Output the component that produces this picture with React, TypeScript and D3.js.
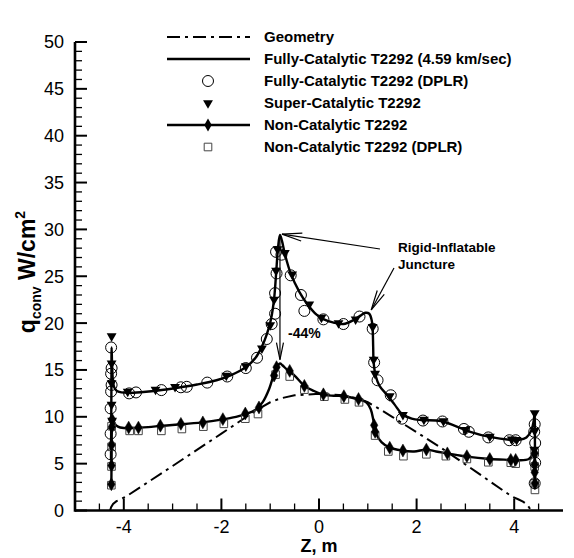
import React from "react";
import * as d3 from "d3";

type P = [number, number];

// Geometry profile (scaled)
const geometry: P[] = [
  [-4.28, 0], [-4.26, 0.35], [-4.22, 0.7], [-4.15, 1.0], [-4.05, 1.25], [-3.95, 1.5],
  [-3.0, 4.75], [-2.0, 8.2], [-1.4, 10.3], [-1.2, 10.95], [-1.0, 11.55], [-0.8, 11.95],
  [-0.5, 12.3], [0, 12.45], [0.5, 12.3], [0.8, 11.95], [1.0, 11.55], [1.2, 10.95],
  [1.5, 10.0], [2.5, 6.7], [3.2, 4.2], [3.95, 1.5], [4.08, 1.2], [4.18, 0.95],
  [4.26, 0.65], [4.31, 0.3], [4.34, 0],
];

// Fully-Catalytic T2292 (4.59 km/sec) line
const fullyCat: P[] = [
  [-4.262, 5.4], [-4.258, 9], [-4.254, 13], [-4.25, 17.4], [-4.24, 15.6], [-4.225, 14.0],
  [-4.2, 13.2], [-4.15, 12.8], [-4.05, 12.6], [-3.9, 12.55], [-3.6, 12.65], [-3.3, 12.8],
  [-2.9, 13.1], [-2.5, 13.45], [-2.1, 13.9], [-1.8, 14.45], [-1.5, 15.3], [-1.3, 16.3],
  [-1.17, 17.5], [-1.07, 18.8], [-0.98, 20.5], [-0.92, 22.6], [-0.88, 25.2], [-0.84, 28.0],
  [-0.8, 29.4], [-0.76, 28.8], [-0.7, 27.4], [-0.58, 25.3], [-0.4, 23.3], [-0.25, 22.1],
  [-0.05, 20.9], [0.1, 20.4], [0.3, 20.05], [0.5, 19.9], [0.7, 20.3], [0.85, 20.8],
  [0.95, 21.1], [1.03, 21.0], [1.08, 20.3], [1.1, 19.3], [1.11, 17.5], [1.12, 15.8],
  [1.16, 14.4], [1.24, 13.3], [1.4, 12.3], [1.55, 11.3], [1.7, 10.3], [1.9, 9.8],
  [2.1, 9.65], [2.5, 9.55], [2.8, 9.0], [3.1, 8.4], [3.5, 7.85], [3.9, 7.55], [4.1, 7.55],
  [4.25, 7.8], [4.35, 8.5], [4.4, 9.6], [4.42, 10.5], [4.425, 7], [4.428, 4], [4.43, 2.3],
];

// Fully-Catalytic T2292 (DPLR) circles
const fullyCatDPLR: P[] = [
  [-4.26, 17.4], [-4.25, 15.2], [-4.26, 14.6], [-4.25, 13.4], [-4.26, 12.7], [-4.27, 10.9],
  [-4.27, 8.2], [-4.27, 6.0], [-3.89, 12.5], [-3.75, 12.6], [-3.23, 12.85], [-2.83, 13.15],
  [-2.71, 13.2], [-2.29, 13.65], [-1.88, 14.3], [-1.5, 15.2], [-1.27, 16.3], [-1.07, 18.3],
  [-0.97, 19.9], [-0.9, 21.0], [-0.9, 23.2], [-0.87, 25.3], [-0.88, 27.6], [-0.77, 27.3],
  [-0.58, 25.1], [-0.37, 23.0], [-0.3, 21.3], [0.09, 20.4], [0.5, 19.9], [0.83, 20.7],
  [1.1, 19.4], [1.13, 15.8], [1.2, 13.9], [1.47, 12.3], [1.7, 9.8], [2.13, 9.6],
  [2.53, 9.5], [2.97, 8.7], [3.07, 8.4], [3.47, 7.8], [3.9, 7.5], [4.03, 7.5],
  [4.42, 9.2], [4.41, 8.4], [4.43, 7.2], [4.43, 5.1], [4.42, 2.9],
];

// Super-Catalytic T2292 triangles
const superCat: P[] = [
  [-4.25, 18.6], [-4.25, 15.7], [-4.25, 13.6], [-4.25, 11.3], [-4.24, 9.6], [-3.92, 12.7],
  [-3.35, 12.9], [-2.95, 13.2], [-1.9, 14.4], [-1.5, 15.4], [-1.17, 17.3], [-1.0, 19.8],
  [-0.92, 22.5], [-0.88, 25.6], [-0.85, 27.9], [-0.7, 27.5], [-0.55, 25.2], [-0.2, 22.0],
  [0.05, 20.6], [0.4, 20.0], [0.75, 20.4], [1.1, 19.6], [1.12, 16.1], [1.15, 14.6],
  [1.45, 12.2], [1.72, 10.2], [2.15, 9.7], [2.55, 9.55], [3.0, 8.6], [3.5, 7.9],
  [3.95, 7.6], [4.05, 7.55], [4.42, 10.4], [4.42, 8.5], [4.41, 6.5],
];

// Non-Catalytic T2292 line
const nonCat: P[] = [
  [-4.255, 2.8], [-4.252, 4.8], [-4.25, 7.0], [-4.245, 9.2], [-4.24, 10.0], [-4.225, 9.8],
  [-4.19, 9.3], [-4.12, 8.95], [-4.0, 8.8], [-3.8, 8.8], [-3.5, 8.9], [-3.2, 9.05],
  [-2.8, 9.2], [-2.4, 9.4], [-2.0, 9.7], [-1.7, 10.0], [-1.5, 10.3], [-1.3, 10.75],
  [-1.15, 11.6], [-1.02, 13.0], [-0.92, 14.6], [-0.85, 15.4], [-0.8, 15.7], [-0.75, 15.5],
  [-0.65, 15.0], [-0.5, 14.4], [-0.3, 13.3], [-0.1, 12.75], [0.1, 12.35], [0.3, 12.25],
  [0.53, 12.2], [0.7, 12.0], [0.85, 11.8], [0.98, 11.5], [1.06, 10.8], [1.12, 9.5],
  [1.18, 8.1], [1.28, 7.3], [1.45, 6.7], [1.7, 6.4], [1.95, 6.3], [2.2, 6.5], [2.4, 6.3],
  [2.63, 6.1], [3.03, 5.75], [3.5, 5.5], [3.93, 5.4], [4.1, 5.35], [4.3, 5.5],
  [4.39, 6.1], [4.415, 6.7], [4.42, 5], [4.422, 3.5], [4.425, 2.6],
];

// Non-Catalytic T2292 diamonds
const nonCatMarks: P[] = [
  [-4.255, 2.8], [-4.252, 4.8], [-4.25, 7.0], [-4.245, 8.9], [-4.24, 9.7], [-3.9, 8.85],
  [-3.7, 8.85], [-3.25, 9.05], [-2.83, 9.25], [-2.38, 9.4], [-1.97, 9.75], [-1.51, 10.35],
  [-1.23, 11.0], [-0.92, 14.4], [-0.87, 15.3], [-0.6, 14.9], [-0.3, 13.3], [0.09, 12.4],
  [0.51, 12.2], [0.81, 11.9], [1.13, 9.1], [1.15, 8.4], [1.45, 6.7], [1.72, 6.4],
  [2.2, 6.5], [2.63, 6.1], [3.03, 5.8], [3.5, 5.5], [3.93, 5.4], [4.03, 5.4],
  [4.42, 6.1], [4.42, 4.9], [4.42, 4.07], [4.425, 2.9],
];

// Non-Catalytic T2292 (DPLR) squares
const nonCatDPLR: P[] = [
  [-4.255, 2.7], [-4.252, 4.7], [-4.25, 6.8], [-4.25, 9.0], [-3.88, 8.5], [-3.7, 8.5],
  [-3.23, 8.5], [-2.81, 8.7], [-2.37, 8.95], [-1.95, 9.25], [-1.51, 9.8], [-1.25, 10.3],
  [-0.89, 14.5], [-0.6, 14.3], [-0.3, 12.9], [0.11, 12.15], [0.53, 11.85], [0.82, 11.55],
  [1.15, 8.0], [1.42, 6.3], [1.73, 5.8], [2.2, 6.0], [2.6, 5.8], [3.03, 5.5],
  [3.47, 5.15], [3.93, 5.1], [4.03, 5.0], [4.42, 6.2], [4.42, 4.7], [4.42, 2.9], [4.425, 2.2],
];

const xMajor = [-4, -2, 0, 2, 4];
const yMajor = [0, 5, 10, 15, 20, 25, 30, 35, 40, 45, 50];

const legendLabels = [
  "Geometry",
  "Fully-Catalytic T2292 (4.59 km/sec)",
  "Fully-Catalytic T2292 (DPLR)",
  "Super-Catalytic T2292",
  "Non-Catalytic T2292",
  "Non-Catalytic T2292 (DPLR)",
];

const FONT = "'Liberation Sans', Arial, Helvetica, sans-serif";

function arrowHead(x1: number, y1: number, x2: number, y2: number, L = 18, w = 4) {
  const dx = x2 - x1, dy = y2 - y1;
  const len = Math.hypot(dx, dy);
  const ux = dx / len, uy = dy / len;
  const bx = x2 - ux * L, by = y2 - uy * L;
  const nx = -uy, ny = ux;
  return `${bx + nx * w},${by + ny * w} ${x2},${y2} ${bx - nx * w},${by - ny * w}`;
}

export default function App() {
  const W = 574, H = 558;
  const x = d3.scaleLinear().domain([-5, 5]).range([75, 563]);
  const y = d3.scaleLinear().domain([0, 50]).range([510.5, 42]);

  const line = d3.line<P>().x(d => x(d[0])).y(d => y(d[1])).curve(d3.curveCatmullRom.alpha(0.5));
  const lineLin = d3.line<P>().x(d => x(d[0])).y(d => y(d[1]));

  const circle = d3.symbol().type(d3.symbolCircle).size(95)()!;
  const tri = d3.symbol().type(d3.symbolTriangle).size(42)()!;
  const diamond = d3.symbol().type(d3.symbolDiamond).size(48)()!;
  const square = d3.symbol().type(d3.symbolSquare).size(58)()!;

  const xMinor = d3.range(-4.5, 5, 0.5).filter(v => Math.abs(v % 2) > 1e-6);
  const yMinor = d3.range(1, 50, 1).filter(v => v % 5 !== 0);

  const legendY = [37, 59, 81, 103, 125, 147];
  const lx1 = 167, lx2 = 250, lmx = 208, ltx = 264;

  const dash = "13,5,3,5";

  // annotation anchors
  const peakX = x(-0.8), peakY = y(29.5);
  const humpX = x(1.07), humpY = y(21.4);
  const a1x = 380, a1y = 249;
  const a2x = 394, a2y = 268;
  const vTopY = y(29.0), vBotY = y(16.1);

  return (
    <svg width={W} height={H} style={{ position: "absolute", left: 0, top: 0, background: "#fff" }} fontFamily={FONT}>
      <rect width={W} height={H} fill="#fff" />
      {/* geometry */}
      <path d={lineLin(geometry)!} fill="none" stroke="#000" strokeWidth={2} strokeDasharray={dash} />
      {/* lines */}
      <path d={line(fullyCat)!} fill="none" stroke="#000" strokeWidth={2.4} />
      <path d={line(nonCat)!} fill="none" stroke="#000" strokeWidth={2.4} />
      {/* markers */}
      {nonCatDPLR.map((d, i) => (
        <path key={"s" + i} d={square} transform={`translate(${x(d[0])},${y(d[1])})`} fill="none" stroke="#444" strokeWidth={1} />
      ))}
      {nonCatMarks.map((d, i) => (
        <path key={"d" + i} d={diamond} transform={`translate(${x(d[0])},${y(d[1])})`} fill="#000" stroke="#000" strokeWidth={0.5} />
      ))}
      {superCat.map((d, i) => (
        <path key={"t" + i} d={tri} transform={`translate(${x(d[0])},${y(d[1])}) rotate(180)`} fill="#000" />
      ))}
      {fullyCatDPLR.map((d, i) => (
        <path key={"c" + i} d={circle} transform={`translate(${x(d[0])},${y(d[1])})`} fill="none" stroke="#000" strokeWidth={1} />
      ))}

      {/* axes */}
      <line x1={x(-5)} x2={x(5)} y1={y(0)} y2={y(0)} stroke="#000" strokeWidth={2.6} />
      <line x1={x(-5)} x2={x(-5)} y1={y(0) + 1.3} y2={y(50)} stroke="#000" strokeWidth={2.6} />
      {xMajor.map(v => (
        <g key={"xm" + v}>
          <line x1={x(v)} x2={x(v)} y1={y(0)} y2={y(0) - 12} stroke="#000" strokeWidth={2} />
          <text x={x(v)} y={533} textAnchor="middle" fontSize={18}>{v}</text>
        </g>
      ))}
      {xMinor.map(v => (
        <line key={"xn" + v} x1={x(v)} x2={x(v)} y1={y(0)} y2={y(0) - 7} stroke="#000" strokeWidth={1.3} />
      ))}
      {yMajor.map(v => (
        <g key={"ym" + v}>
          <line x1={x(-5)} x2={x(-5) + 12} y1={y(v)} y2={y(v)} stroke="#000" strokeWidth={2} />
          <text x={64} y={y(v)} dy="0.36em" textAnchor="end" fontSize={18}>{v}</text>
        </g>
      ))}
      {yMinor.map(v => (
        <line key={"yn" + v} x1={x(-5)} x2={x(-5) + 7} y1={y(v)} y2={y(v)} stroke="#000" strokeWidth={1.3} />
      ))}

      {/* axis titles */}
      <text x={x(0)} y={552} textAnchor="middle" fontSize={18} fontWeight="bold">Z, m</text>
      <text transform={`translate(35,272) rotate(-90)`} textAnchor="middle" fontSize={23} fontWeight="bold">
        q<tspan fontSize={14} dy={6}>conv</tspan>
        <tspan dy={-6}>{"  W/cm"}</tspan>
        <tspan fontSize={14} dy={-10}>2</tspan>
      </text>

      {/* legend */}
      <line x1={lx1} x2={lx2} y1={legendY[0]} y2={legendY[0]} stroke="#000" strokeWidth={2} strokeDasharray={dash} />
      <line x1={lx1} x2={lx2} y1={legendY[1]} y2={legendY[1]} stroke="#000" strokeWidth={2.4} />
      <path d={circle} transform={`translate(${lmx},${legendY[2]})`} fill="none" stroke="#000" strokeWidth={1} />
      <path d={tri} transform={`translate(${lmx},${legendY[3]}) rotate(180)`} fill="#000" />
      <line x1={lx1} x2={lx2} y1={legendY[4]} y2={legendY[4]} stroke="#000" strokeWidth={2.4} />
      <path d={diamond} transform={`translate(${lmx},${legendY[4]})`} fill="#000" />
      <path d={square} transform={`translate(${lmx},${legendY[5]})`} fill="none" stroke="#444" strokeWidth={1} />
      {legendLabels.map((t, i) => (
        <text key={t} x={ltx} y={legendY[i]} dy="0.36em" fontSize={15} fontWeight="bold">{t}</text>
      ))}

      {/* annotations */}
      <text x={398} y={252} fontSize={13.5} fontWeight="bold">Rigid-Inflatable</text>
      <text x={398} y={269} fontSize={13.5} fontWeight="bold">Juncture</text>
      <line x1={a1x} x2={peakX + 2} y1={a1y} y2={peakY} stroke="#000" strokeWidth={1.2} />
      <polyline points={arrowHead(a1x, a1y, peakX + 2, peakY, 20, 4)} fill="none" stroke="#000" strokeWidth={1.2} />
      <line x1={a2x} x2={humpX} y1={a2y} y2={humpY} stroke="#000" strokeWidth={1.2} />
      <polyline points={arrowHead(a2x, a2y, humpX, humpY, 20, 4)} fill="none" stroke="#000" strokeWidth={1.2} />
      <line x1={peakX} x2={peakX} y1={vTopY} y2={vBotY} stroke="#000" strokeWidth={1.2} />
      <polyline points={arrowHead(peakX, vTopY, peakX, vBotY, 17, 3.5)} fill="none" stroke="#000" strokeWidth={1.2} />
      <text x={288} y={333} dy="0.36em" fontSize={14} fontWeight="bold">-44%</text>
    </svg>
  );
}
